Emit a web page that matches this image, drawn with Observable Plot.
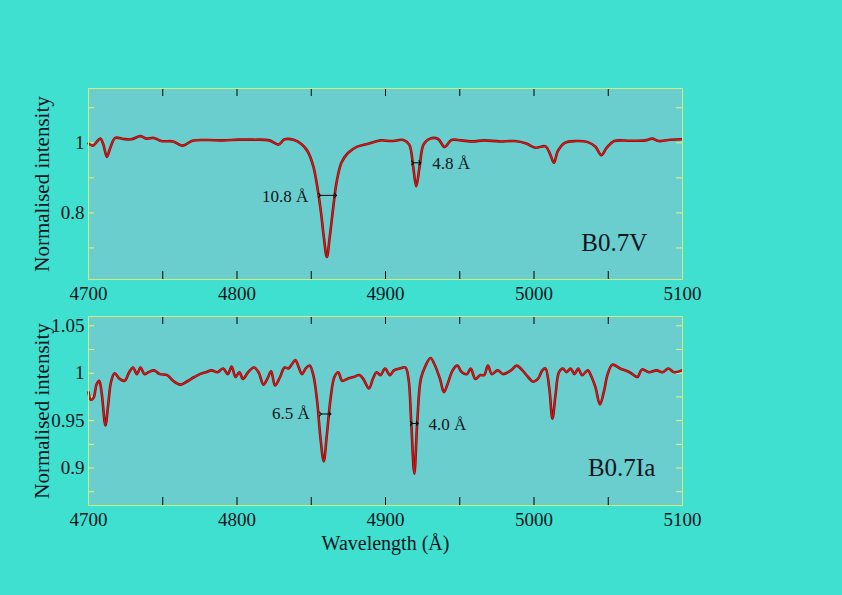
<!DOCTYPE html>
<html><head><meta charset="utf-8">
<script src="https://cdn.jsdelivr.net/npm/d3@7"></script>
<script src="https://cdn.jsdelivr.net/npm/@observablehq/plot@0.6"></script>
<style>
html,body{margin:0;padding:0;background:#40e0d0;width:842px;height:595px;overflow:hidden;}
#wrap{position:relative;width:842px;height:595px;}
#wrap > svg{position:absolute;left:0;}
</style></head><body>
<svg width="0" height="0" style="position:absolute;left:0;top:0"><defs>
<pattern id="chk" width="2" height="2" patternUnits="userSpaceOnUse">
<rect width="2" height="2" fill="#38c6c6"/><rect width="1" height="1" fill="#9cd6d6"/><rect x="1" y="1" width="1" height="1" fill="#9cd6d6"/>
</pattern></defs></svg>
<div id="wrap"></div>
<script>
// ---- data ----
const xTickLabels = [4700, 4800, 4900, 5000, 5100];
const xTickMarks = [4750, 4800, 4850, 4900, 4950, 5000, 5050];

// Top panel: B0.7V
const topWave = [4700,4703,4705,4708,4710,4712.4,4714.7,4718,4723.5,4728.7,
  4735,4739,4744,4749,4757,4763.5,4770,4780,4790.7,4801,
  4811,4821.7,4828,4832,4838.5,4843.7,4847.5,4851.4,4854,4856.6,
  4858.4,4860.5,4862.5,4864.9,4867,4870.3,4874.7,4881,4889,4896.6,
  4904,4912,4916,4918.6,4920.7,4923,4925.6,4930,4935.4,4939.8,
  4944.4,4951,4958.6,4966.4,4976.7,4987,4994.8,5001,5007.7,5010.9,
  5013.4,5016,5020.7,5028.4,5036.2,5041.4,5045.3,5049,5054,5064.6,
  5075,5079.6,5084,5090.4,5099];
const topFlux = [0.998,0.992,1.000,1.012,0.995,0.960,0.986,1.014,1.011,1.010,
  1.019,1.012,1.014,1.005,1.004,0.992,1.006,1.008,1.007,1.009,
  1.009,1.007,0.995,1.010,1.008,0.995,0.976,0.933,0.876,0.800,
  0.733,0.674,0.733,0.819,0.886,0.943,0.971,0.989,0.998,1.007,
  1.005,1.008,0.995,0.933,0.876,0.933,0.995,1.012,1.011,0.988,
  1.008,1.007,1.004,1.007,1.004,1.005,0.998,0.986,0.990,0.967,
  0.943,0.976,1.000,1.005,1.002,0.989,0.965,0.986,1.005,1.006,
  1.007,1.012,1.005,1.008,1.010];
const topYTicks = [0.8, 1];
const topYMinor = [0.7, 0.8, 0.9, 1.0, 1.1];
const topDomain = [0.61, 1.155];
const topWidths = [
  {x1: 4855.6, x2: 4866.4, y: 0.850},
  {x1: 4918.3, x2: 4923.1, y: 0.943}
];
const topLeftNotes = [{label: "10.8 Å", x: 4848, y: 0.848}];
const topRightNotes = [{label: "4.8 Å", x: 4931.5, y: 0.940}];
const topStar = {label: "B0.7V", x: 5054, y: 0.714};

// Bottom panel: B0.7Ia
const botWave = [4700,4701.6,4703.4,4705.4,4707.2,4708.8,4711.4,4713.2,4715.2,4717.6,
  4721,4724.3,4727.4,4730,4732.6,4735,4737.7,4740.3,4744.2,4748,
  4753,4757,4761.8,4766,4771.3,4775,4779,4783,4786.8,4790.7,
  4793.8,4796.4,4799,4801.6,4804,4807.5,4811.4,4814.5,4817.8,4820.4,
  4823,4825.6,4829,4832,4834.6,4837.2,4839.3,4841.6,4843.7,4846.3,
  4848.9,4851.4,4854,4856,4858.4,4860.5,4863,4865.6,4868.2,4870.8,
  4874.2,4878.6,4882.4,4885,4888.9,4891.5,4894,4896.6,4899.7,4903,
  4905.7,4909.6,4913.4,4915.5,4917.3,4919.4,4921.4,4923.8,4927,4930.3,
  4932.8,4936.7,4939.3,4941.9,4945.2,4948.3,4951.4,4954.8,4957.4,4960.5,
  4963.8,4966.4,4969,4971.6,4975.5,4979.3,4984.5,4988.3,4992.2,4996,
  4999.4,5002.6,5005.6,5007.7,5010.3,5012.4,5014.5,5016.8,5019.4,5022,
  5024.6,5027.3,5029.7,5032.4,5036.2,5038.8,5041.4,5044.4,5047,5049.6,
  5052.8,5058,5064.4,5069.6,5072.7,5077.4,5082.5,5086.6,5090.4,5094.3,
  5099.5];
const botFlux = [0.980,0.972,0.974,0.988,0.992,0.980,0.945,0.966,0.991,1.000,
  0.994,0.992,1.001,1.006,0.999,1.006,0.999,1.001,1.003,0.999,
  0.998,0.992,0.988,0.991,0.996,0.999,1.001,1.003,1.001,1.005,
  0.999,1.007,0.996,1.001,0.994,1.001,1.006,1.001,0.988,0.994,
  1.002,0.987,0.996,1.006,1.005,1.010,1.014,1.006,0.999,1.005,
  1.008,0.998,0.970,0.935,0.907,0.935,0.973,0.996,1.001,0.992,
  0.994,0.996,0.998,0.994,0.984,0.994,1.001,0.998,1.005,0.998,
  1.003,1.005,1.006,0.994,0.949,0.894,0.949,0.994,1.008,1.016,
  1.010,0.994,0.980,0.989,1.003,1.008,1.001,0.999,1.005,0.994,
  0.998,0.998,1.008,0.999,1.003,0.999,1.003,1.008,1.003,0.996,
  0.991,0.994,1.003,1.005,0.984,0.952,0.977,1.001,1.005,1.001,
  1.005,0.999,1.005,0.998,1.003,0.996,0.985,0.967,0.980,0.999,
  1.009,1.005,1.001,0.996,1.004,1.001,1.003,1.001,1.005,1.001,
  1.003];
const botYTicks = [0.9, 0.95, 1, 1.05];
const botYMinor = [0.875, 0.9, 0.925, 0.95, 0.975, 1.0, 1.025, 1.05];
const botDomain = [0.8605, 1.0598];
const botWidths = [
  {x1: 4856.2, x2: 4862.7, y: 0.957},
  {x1: 4917.4, x2: 4921.4, y: 0.947}
];
const botLeftNotes = [{label: "6.5 Å", x: 4849, y: 0.957}];
const botRightNotes = [{label: "4.0 Å", x: 4929, y: 0.946}];
const botStar = {label: "B0.7Ia", x: 5059, y: 0.900};

const yLabel = "Normalised intensity";
const xLabel = "Wavelength (Å)";

// ---- drawing ----
const W = 842, ML = 88, MR = 160;
const INK = "#0b1620";

function panel(o) {
  const rows = o.wave.map((w, i) => ({w, f: o.flux[i]}));
  const ih = o.height - o.mt - o.mb;
  const iw = W - ML - MR;
  const marks = [
    Plot.frame({fill: "url(#chk)"}),
    Plot.tickX(xTickMarks, {x: d => d, insetTop: ih - 8, stroke: "#000", strokeWidth: 1}),
    Plot.tickX(xTickMarks, {x: d => d, insetBottom: ih - 8, stroke: "#000", strokeWidth: 1}),
    Plot.tickY(o.yMinor, {y: d => d, insetRight: iw - 6, stroke: "#eef27a", strokeWidth: 1}),
    Plot.tickY(o.yMinor, {y: d => d, insetLeft: iw - 6, stroke: "#eef27a", strokeWidth: 1}),
    Plot.line(rows, {x: "w", y: "f", stroke: "#7a1010", strokeWidth: 2.6, curve: "catmull-rom"}),
    Plot.line(rows, {x: "w", y: "f", stroke: "#e41414", strokeWidth: 1.3, curve: "catmull-rom"}),
    Plot.link(o.widths, {x1: "x1", x2: "x2", y1: "y", y2: "y", stroke: "#000", strokeWidth: 1,
      markerStart: "arrow", markerEnd: "arrow"}),
    Plot.text(o.leftNotes, {x: "x", y: "y", text: "label", textAnchor: "end", fontSize: 17, fill: INK}),
    Plot.text(o.rightNotes, {x: "x", y: "y", text: "label", textAnchor: "start", fontSize: 17, fill: INK}),
    Plot.text([o.star], {x: "x", y: "y", text: "label", fontSize: 25, fill: INK}),
    Plot.text([yLabel], {frameAnchor: "left", textAnchor: "middle", lineAnchor: "middle",
      rotate: -90, dx: -46, fontSize: 21, fill: INK}),
    Plot.frame({stroke: "#cdee7c", strokeWidth: 1})
  ];
  if (o.xLabel) marks.push(Plot.text([o.xLabel], {frameAnchor: "bottom", lineAnchor: "middle",
    dy: 38, fontSize: 20, fill: INK}));
  const svg = Plot.plot({
    width: W, height: o.height,
    marginLeft: ML, marginRight: MR, marginTop: o.mt, marginBottom: o.mb,
    style: {background: "none", fontFamily: "'Liberation Serif', 'Times New Roman', serif",
      fontSize: "19px", color: INK, overflow: "visible"},
    x: {domain: [4700, 5100], ticks: xTickLabels, tickFormat: d => String(d),
      tickSize: 0, tickPadding: 7, label: null},
    y: {domain: o.domain, ticks: o.yTicks, tickFormat: d => String(d),
      tickSize: 0, tickPadding: 4, label: null},
    marks
  });
  svg.style.top = o.top + "px";
  document.getElementById("wrap").appendChild(svg);
}

panel({wave: topWave, flux: topFlux, domain: topDomain, yTicks: topYTicks, yMinor: topYMinor,
  widths: topWidths, leftNotes: topLeftNotes, rightNotes: topRightNotes, star: topStar,
  height: 300, mt: 88, mb: 21, top: 0});
panel({wave: botWave, flux: botFlux, domain: botDomain, yTicks: botYTicks, yMinor: botYMinor,
  widths: botWidths, leftNotes: botLeftNotes, rightNotes: botRightNotes, star: botStar,
  height: 295, mt: 16, mb: 90, top: 300, xLabel});
</script>
</body></html>
